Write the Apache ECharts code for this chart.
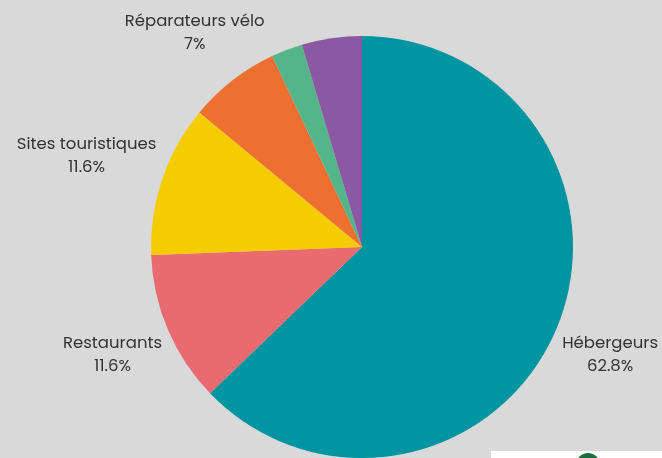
<!DOCTYPE html>
<html><head><meta charset="utf-8">
<script src="https://cdn.jsdelivr.net/npm/echarts@6/dist/echarts.min.js"></script>
<style>html,body{margin:0;padding:0;background:#d9d9d9}#c{width:662px;height:458px}</style>
</head><body><div id="c"></div>
<script>
const categories = ['Hébergeurs','Restaurants','Sites touristiques','Réparateurs vélo','Loueurs vélo','Autres'];
const values = [62.8, 11.6, 11.6, 7, 2.4, 4.6];
const showLabel = [true, true, true, true, false, false];
const colors = ['#0095a0','#e96a6f','#f5cc00','#ee7030','#55b58a','#8b58a3'];

const chart = echarts.init(document.getElementById('c'));
chart.setOption({
  backgroundColor: '#d9d9d9',
  animation: false,
  series: [{
    type: 'pie',
    center: [362, 247],
    radius: 211,
    startAngle: 90,
    clockwise: true,
    avoidLabelOverlap: false,
    data: categories.map((n, i) => ({
      name: n, value: values[i],
      itemStyle: { color: colors[i] },
      label: { show: showLabel[i] }
    })),
    label: {
      position: 'outside',
      formatter: p => p.name + '\n' + p.value + '%',
      fontFamily: 'Poppins, DejaVu Sans',
      fontSize: 16.5,
      lineHeight: 23,
      color: '#333',
      align: 'center'
    },
    labelLine: { show: false, length: 10, length2: 0 },
    labelLayout: function (p) {
      if (!p.labelLinePoints) return {};
      const a = p.labelLinePoints[0], b = p.labelLinePoints[1];
      let dx = b[0] - a[0], dy = b[1] - a[1];
      const L = Math.hypot(dx, dy) || 1;
      dx /= L; dy /= L;
      const w = p.labelRect.width, h = p.labelRect.height;
      const ext = w / 2 * Math.abs(dx) + h / 4 * Math.abs(dy);
      return { x: b[0] + dx * ext, y: b[1] + dy * ext + 2.5, align: 'center', verticalAlign: 'middle' };
    },
    itemStyle: { borderWidth: 0 }
  }],
  graphic: [
    { type: 'rect', shape: { x: 491, y: 451, width: 171, height: 10 }, style: { fill: '#ffffff' } },
    { type: 'circle', shape: { cx: 588, cy: 465, r: 12 }, style: { fill: '#1d6e3d' } }
  ]
});
</script></body></html>
